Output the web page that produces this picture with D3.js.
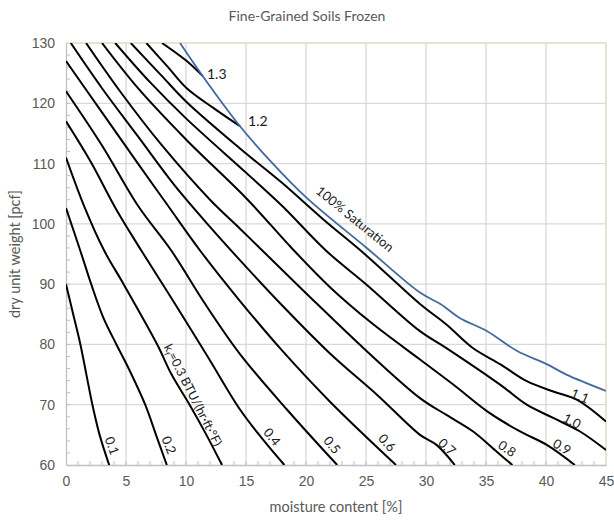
<!DOCTYPE html>
<html>
<head>
<meta charset="utf-8">
<script src="https://cdn.jsdelivr.net/npm/d3@7"></script>
<style>
  body { margin: 0; background: #fff; }
  svg { font-family: Lato, "Open Sans", sans-serif; }
  .tick text { fill: #595959; font-size: 14px; }
</style>
</head>
<body>
<div id="chart"></div>
<script>
// axis ticks
const xTicks = [0, 5, 10, 15, 20, 25, 30, 35, 40, 45];
const yTicks = [60, 70, 80, 90, 100, 110, 120, 130];

// thermal conductivity lines, [moisture %, dry unit weight pcf]
const k01 = [[0,90],[0.6,85],[1.2,80],[1.7,75],[2.2,70],[2.8,65],[3.6,60]];
const k02 = [[0,102.6],[1.2,95.5],[2.1,90],[3.1,84.5],[4.2,80],[5.1,76.5],[6.6,70],[7.5,65],[8.4,60]];
const k03 = [[0,111],[1.5,103],[3.2,95.5],[4.8,90],[7.6,80],[8.8,75],[10.3,70],[11.7,65],[13.0,60]];
const k04 = [[0,117],[2,110.5],[4.3,102],[6.3,95.5],[9,87],[11.8,78],[14.5,69.2],[16.3,64.5],[18.2,60]];
const k05 = [[0,122],[3,113],[6,103],[8.8,95.5],[11.5,87],[14.5,78.4],[18.5,69],[22.6,60]];
const k06 = [[0,127],[3,118.5],[6,110],[8.5,103],[11.2,95.5],[14.5,87.2],[18,79],[22,70.5],[27.5,60]];
const k07 = [[0.4,130],[3,122.5],[6,114.5],[9,106.5],[12,99.5],[14.3,94.4],[18,86.5],[22,78.5],[26,71.5],[29.5,65],[30.9,63.3],[32.4,60]];
const k08 = [[1.67,130],[4.5,122],[8,113],[12,104],[14.5,99.2],[16.4,95.5],[20,88.5],[25,79],[29.5,71.1],[31.7,68.3],[33.9,65.6],[35.9,62.2],[37.2,60]];
const k09 = [[3,130],[6,122.5],[10,114],[15,104.3],[18.8,96],[22,89.5],[25.5,83.5],[29.5,77.5],[32.3,73.3],[35.1,68.9],[37.8,65.6],[40.1,63.3],[42.4,60]];
const k10 = [[4.1,130],[7,123.5],[10,117.5],[15,108.5],[18,103],[21.7,95.5],[25,90],[29.5,82.2],[31.7,79.4],[36.2,73.3],[38.4,70],[40.6,67.8],[42.8,65.6],[45,62.5]];
const k11 = [[5.4,130],[8,124.5],[10,120.3],[14.5,112.5],[18,106.8],[21.4,100.8],[25,94.8],[29.5,86.7],[31.7,83.3],[33.9,79.4],[36.2,76.7],[38.4,73.9],[40.6,72.2],[42.6,70.8],[45,67.2]];
const k12 = [[6.7,130],[8.5,126],[10.06,122.5],[12.3,119.2],[14.5,116.2]];
const k13 = [[8,130],[10.06,127],[11.4,124.5]];
const kLines = [k01, k02, k03, k04, k05, k06, k07, k08, k09, k10, k11, k12, k13];

// 100% saturation line
const saturation = [[9.5,130],[11.4,124.5],[14.5,116.2],[17,110.5],[20.06,104.3],[25.06,96],[29.5,88.6],[31.2,86.7],[32.8,84.4],[35.1,82.2],[37.6,78.9],[40.1,76.7],[41.7,75],[45,72.3]];

// line labels: text, anchor in data units, rotation
const lineLabels = [
  { t: "0.1", x: 3.83, y: 63.2, a: 70 },
  { t: "0.2", x: 8.58, y: 63.3, a: 68 },
  { t: "0.4", x: 17.17, y: 64.65, a: 52 },
  { t: "0.5", x: 22.17, y: 63.3, a: 52 },
  { t: "0.6", x: 26.75, y: 63.7, a: 48 },
  { t: "0.7", x: 31.75, y: 63.0, a: 42 },
  { t: "0.8", x: 36.75, y: 62.7, a: 35 },
  { t: "0.9", x: 41.33, y: 63.0, a: 30 },
  { t: "1.0", x: 42.17, y: 67.3, a: 27 },
  { t: "1.1", x: 42.83, y: 71.45, a: 22 },
];

const W = 614, H = 520;
const m = { top: 43, right: 8, bottom: 55, left: 66 };

const svg = d3.select('#chart').append('svg').attr('width', W).attr('height', H);

const x = d3.scaleLinear().domain([0, 45]).range([m.left, W - m.right]);
const y = d3.scaleLinear().domain([60, 130]).range([H - m.bottom, m.top]);

// gridlines
svg.append('g').selectAll('line').data(xTicks.slice(1)).join('line')
  .attr('x1', d => x(d)).attr('x2', d => x(d))
  .attr('y1', y(60)).attr('y2', y(130))
  .attr('stroke', '#d9d9d9').attr('stroke-width', 1.3);
svg.append('g').selectAll('line').data(yTicks.slice(1)).join('line')
  .attr('x1', x(0)).attr('x2', x(45))
  .attr('y1', d => y(d)).attr('y2', d => y(d))
  .attr('stroke', '#d9d9d9').attr('stroke-width', 1.3);

// top / right border
svg.append('path')
  .attr('d', `M${x(0)},${y(130)}H${x(45)}V${y(60)}`)
  .attr('fill', 'none').attr('stroke', '#e9e2cc').attr('stroke-width', 1.5);

// minor ticks (inside)
svg.append('g').selectAll('line').data(d3.range(1, 45)).join('line')
  .attr('x1', d => x(d)).attr('x2', d => x(d))
  .attr('y1', y(60)).attr('y2', y(60) - 4)
  .attr('stroke', '#bfbfbf');
svg.append('g').selectAll('line').data(d3.range(62, 130, 2)).join('line')
  .attr('x1', x(0)).attr('x2', x(0) + 4)
  .attr('y1', d => y(d)).attr('y2', d => y(d))
  .attr('stroke', '#bfbfbf');

// axes
const xAxis = svg.append('g').attr('transform', `translate(0,${y(60)})`)
  .call(d3.axisBottom(x).tickValues(xTicks).tickSize(0).tickPadding(11));
const yAxis = svg.append('g').attr('transform', `translate(${x(0)},0)`)
  .call(d3.axisLeft(y).tickValues(yTicks).tickSize(0).tickPadding(11));
[xAxis, yAxis].forEach(g => g.select('.domain').attr('stroke', '#bfbfbf').attr('stroke-width', 1.3));

// clip
svg.append('clipPath').attr('id', 'plot-clip').append('rect')
  .attr('x', x(0)).attr('y', y(130)).attr('width', x(45) - x(0)).attr('height', y(60) - y(130));

const line = d3.line().x(d => x(d[0])).y(d => y(d[1])).curve(d3.curveCatmullRom.alpha(0.5));

const plot = svg.append('g').attr('clip-path', 'url(#plot-clip)');
plot.selectAll('.kline').data(kLines).join('path')
  .attr('class', 'kline')
  .attr('d', line)
  .attr('fill', 'none').attr('stroke', '#000').attr('stroke-width', 2);
plot.append('path').datum(saturation)
  .attr('d', line)
  .attr('fill', 'none').attr('stroke', '#41699f').attr('stroke-width', 1.8);

// labels
const lbl = svg.append('g').attr('font-size', 13).attr('fill', '#1a1a1a');
lbl.selectAll('text').data(lineLabels).join('text')
  .attr('transform', d => `translate(${x(d.x)},${y(d.y)}) rotate(${d.a})`)
  .attr('text-anchor', 'middle').attr('dy', '0.35em')
  .text(d => d.t);

lbl.append('text').attr('x', x(11.75)).attr('y', y(124.0)).attr('font-size', 14).text('1.3');
lbl.append('text').attr('x', x(15.17)).attr('y', y(116.2)).attr('font-size', 14).text('1.2');

lbl.append('text')
  .attr('transform', `translate(${x(24.08)},${y(100.8)}) rotate(39)`)
  .attr('text-anchor', 'middle').attr('dy', '0.35em').attr('font-size', 13)
  .text('100% Saturation');

const kf = lbl.append('text')
  .attr('transform', `translate(${x(10.58)},${y(71.6)}) rotate(63)`)
  .attr('text-anchor', 'middle').attr('dy', '0.35em').attr('font-size', 12.5);
kf.append('tspan').text('k');
kf.append('tspan').attr('font-size', 8).attr('dy', 3).text('f');
kf.append('tspan').attr('dy', -3).text('=0.3 BTU/(hr·ft·°F)');

// titles
svg.append('text').attr('x', 307).attr('y', 21).attr('text-anchor', 'middle')
  .attr('font-size', 14).attr('fill', '#595959').text('Fine-Grained Soils Frozen');
svg.append('text').attr('x', (x(0) + x(45)) / 2).attr('y', 512).attr('text-anchor', 'middle')
  .attr('font-size', 14.5).attr('fill', '#595959').text('moisture content [%]');
svg.append('text')
  .attr('transform', `translate(20,${(y(60) + y(130)) / 2}) rotate(-90)`)
  .attr('text-anchor', 'middle').attr('font-size', 14.5).attr('fill', '#595959')
  .text('dry unit weight [pcf]');
</script>
</body>
</html>
